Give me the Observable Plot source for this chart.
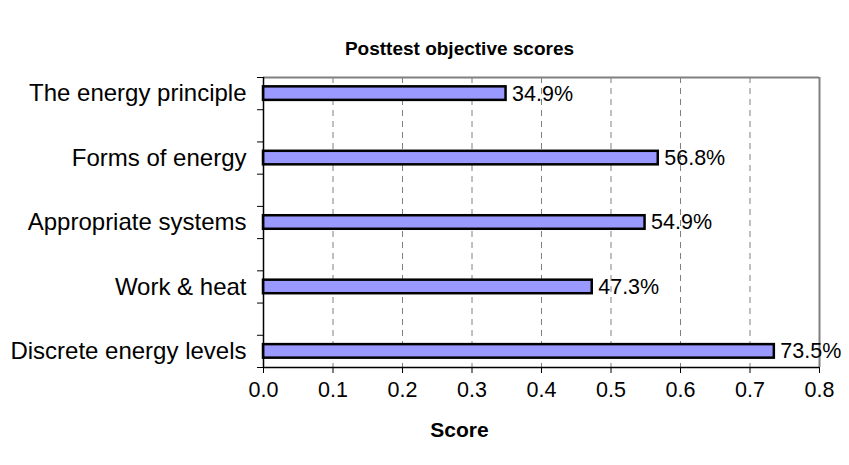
<!DOCTYPE html>
<html><head><meta charset="utf-8">
<script src="https://cdn.jsdelivr.net/npm/d3@7"></script>
<script src="https://cdn.jsdelivr.net/npm/@observablehq/plot@0.6"></script>
<style>body{margin:0;background:#fff}</style>
</head><body><div id="chart"></div>
<script>
const categories = ["The energy principle", "Forms of energy", "Appropriate systems", "Work & heat", "Discrete energy levels"];
const values = [0.349, 0.568, 0.549, 0.473, 0.735];
const valueLabels = ["34.9%", "56.8%", "54.9%", "47.3%", "73.5%"];
const slots = [0, 2, 4, 6, 8]; // row positions on a 9-row category axis (blank rows between)
const nSlots = 9;
const xTicks = [0, 0.1, 0.2, 0.3, 0.4, 0.5, 0.6, 0.7, 0.8];
const title = "Posttest objective scores";
const xLabel = "Score";

const data = categories.map((c, i) => ({category: c, value: values[i], label: valueLabels[i], slot: slots[i]}));
const font = "'Liberation Sans', Arial, sans-serif";
const half = 0.21;

const chart = Plot.plot({
  width: 849, height: 465,
  marginLeft: 263, marginRight: 30, marginTop: 77, marginBottom: 98,
  style: {fontFamily: font, fontSize: "21px", color: "#000", background: "#fff", overflow: "visible"},
  x: {domain: [0, 0.8]},
  y: {domain: [nSlots, 0]},
  marks: [
    Plot.ruleX(xTicks.filter(t => t > 0 && t < 0.8), {stroke: "#808080", strokeDasharray: "6,5", strokeWidth: 1}),
    Plot.ruleY([0], {stroke: "#808080", strokeWidth: 2}),
    Plot.ruleX([0.8], {stroke: "#808080", strokeWidth: 2}),
    Plot.rect(data, {x1: 0, x2: "value", y1: d => d.slot + 0.5 - half, y2: d => d.slot + 0.5 + half, fill: "#9999ff", stroke: "#000", strokeWidth: 2.5}),
    Plot.text(data, {x: "value", y: d => d.slot + 0.5, text: "label", textAnchor: "start", dx: 6, fontSize: 21.5, fill: "#000"}),
    Plot.axisX({ticks: xTicks, tickFormat: d3.format(".1f"), tickSize: 6, tickPadding: 8, label: null, fontSize: 21.5, stroke: "#000"}),
    Plot.axisY({ticks: d3.range(nSlots + 1), tickSize: 6, tickFormat: () => "", label: null}),
    Plot.axisY({ticks: slots.map(s => s + 0.5), tickFormat: d => categories[slots.indexOf(d - 0.5)], tickSize: 0, tickPadding: 17, label: null, fontSize: 24}),
    Plot.ruleX([0], {stroke: "#000", strokeWidth: 1.5}),
    Plot.ruleY([nSlots], {stroke: "#000", strokeWidth: 1.5}),
    Plot.text([title], {frameAnchor: "top", dy: -36, dx: -82, fontWeight: "bold", fontSize: 19, fill: "#000"}),
    Plot.text([xLabel], {frameAnchor: "bottom", dy: 69, dx: -82, fontWeight: "bold", fontSize: 21, fill: "#000"})
  ]
});
document.getElementById("chart").append(chart);
</script>
</body></html>
